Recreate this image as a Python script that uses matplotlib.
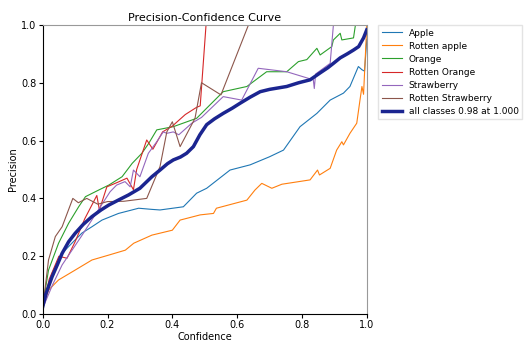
import matplotlib
matplotlib.use("Agg")
import matplotlib.pyplot as plt

# values (confidence, precision)
apple_x = [0.0, 0.018, 0.029, 0.06, 0.09, 0.121, 0.152, 0.183, 0.234, 0.296, 0.337, 0.362, 0.434,
           0.475, 0.506, 0.578, 0.64, 0.70, 0.743, 0.794, 0.846, 0.887, 0.928, 0.948, 0.974, 0.985, 0.993, 1.0]
apple_y = [0.02, 0.09, 0.141, 0.21, 0.245, 0.28, 0.302, 0.325, 0.348, 0.366, 0.362, 0.36, 0.371,
           0.418, 0.435, 0.498, 0.516, 0.544, 0.567, 0.648, 0.694, 0.74, 0.764, 0.787, 0.856, 0.845, 0.84, 0.95]

rotten_apple_x = [0.0, 0.018, 0.049, 0.10, 0.152, 0.204, 0.255, 0.281, 0.337, 0.40, 0.424, 0.486, 0.527,
                  0.536, 0.63, 0.655, 0.676, 0.707, 0.738, 0.825, 0.848, 0.854, 0.887, 0.907, 0.923, 0.928,
                  0.948, 0.969, 0.979, 0.985, 0.99, 1.0]
rotten_apple_y = [0.02, 0.083, 0.118, 0.152, 0.187, 0.204, 0.221, 0.245, 0.273, 0.29, 0.325, 0.343, 0.348,
                  0.366, 0.394, 0.429, 0.452, 0.435, 0.449, 0.464, 0.498, 0.481, 0.504, 0.567, 0.596, 0.585,
                  0.625, 0.66, 0.74, 0.787, 0.76, 1.0]

orange_x = [0.0, 0.018, 0.049, 0.08, 0.111, 0.132, 0.173, 0.204, 0.245, 0.276, 0.306, 0.327, 0.352, 0.403,
            0.475, 0.506, 0.557, 0.63, 0.691, 0.753, 0.789, 0.815, 0.846, 0.856, 0.892, 0.897, 0.918, 0.923,
            0.959, 0.965, 1.0]
orange_y = [0.03, 0.152, 0.245, 0.314, 0.371, 0.406, 0.429, 0.446, 0.475, 0.521, 0.556, 0.59, 0.637, 0.648,
            0.677, 0.712, 0.769, 0.787, 0.838, 0.838, 0.873, 0.88, 0.919, 0.896, 0.925, 0.948, 0.971, 0.948,
            0.955, 1.0, 1.0]

rotten_orange_x = [0.0, 0.02, 0.05, 0.075, 0.10, 0.13, 0.167, 0.175, 0.198, 0.23, 0.26, 0.28, 0.29, 0.321,
                   0.34, 0.37, 0.40, 0.44, 0.475, 0.486, 0.504]
rotten_orange_y = [0.02, 0.12, 0.20, 0.193, 0.25, 0.33, 0.41, 0.36, 0.44, 0.455, 0.47, 0.43, 0.50, 0.602,
                   0.57, 0.63, 0.65, 0.69, 0.715, 0.72, 1.0]

strawberry_x = [0.0, 0.03, 0.06, 0.09, 0.12, 0.16, 0.208, 0.228, 0.254, 0.27, 0.28, 0.30, 0.326, 0.352,
                0.372, 0.383, 0.403, 0.42, 0.46, 0.49, 0.557, 0.614, 0.665, 0.753, 0.835, 0.838, 0.842,
                0.887, 0.897]
strawberry_y = [0.02, 0.10, 0.17, 0.22, 0.27, 0.34, 0.423, 0.446, 0.458, 0.44, 0.498, 0.475, 0.556, 0.596,
                0.63, 0.625, 0.63, 0.62, 0.66, 0.68, 0.752, 0.74, 0.85, 0.838, 0.81, 0.78, 0.83, 0.867, 1.0]

rotten_strawberry_x = [0.0, 0.018, 0.039, 0.06, 0.093, 0.11, 0.136, 0.17, 0.20, 0.25, 0.321, 0.362, 0.383,
                       0.40, 0.424, 0.47, 0.49, 0.55, 0.635]
rotten_strawberry_y = [0.02, 0.187, 0.268, 0.302, 0.40, 0.385, 0.40, 0.38, 0.389, 0.39, 0.40, 0.51, 0.63,
                       0.665, 0.579, 0.677, 0.80, 0.758, 1.0]

all_x = [0.0, 0.01, 0.029, 0.045, 0.06, 0.08, 0.10, 0.125, 0.152, 0.18, 0.204, 0.235, 0.265, 0.30, 0.337,
         0.362, 0.385, 0.403, 0.425, 0.444, 0.465, 0.485, 0.506, 0.53, 0.557, 0.585, 0.609, 0.64, 0.671,
         0.70, 0.753, 0.79, 0.825, 0.856, 0.88, 0.897, 0.918, 0.94, 0.959, 0.975, 0.99, 1.0]
all_y = [0.025, 0.07, 0.129, 0.17, 0.21, 0.25, 0.279, 0.31, 0.337, 0.36, 0.377, 0.395, 0.412, 0.435, 0.475,
         0.498, 0.52, 0.533, 0.543, 0.556, 0.579, 0.62, 0.655, 0.675, 0.694, 0.712, 0.729, 0.75, 0.769,
         0.777, 0.787, 0.80, 0.81, 0.834, 0.852, 0.867, 0.886, 0.90, 0.913, 0.925, 0.955, 0.983]

names = ["Apple", "Rotten apple", "Orange", "Rotten Orange", "Strawberry", "Rotten Strawberry"]
series_x = [apple_x, rotten_apple_x, orange_x, rotten_orange_x, strawberry_x, rotten_strawberry_x]
series_y = [apple_y, rotten_apple_y, orange_y, rotten_orange_y, strawberry_y, rotten_strawberry_y]

fig = plt.figure(figsize=(5.27, 3.41), dpi=100)
ax = fig.add_axes([0.081, 0.079, 0.615, 0.848])

for name, xs, ys in zip(names, series_x, series_y):
    ax.plot(xs, ys, linewidth=0.8, label=name)

ax.plot(all_x, all_y, linewidth=2.5, color="#1b2590", label="all classes 0.98 at 1.000")

ax.set_xlim(0, 1)
ax.set_ylim(0, 1)
ax.set_xlabel("Confidence", fontsize=7, labelpad=1)
ax.set_ylabel("Precision", fontsize=7, labelpad=2)
ax.set_title("Precision-Confidence Curve", fontsize=8, pad=3)
ax.tick_params(labelsize=7, length=3, pad=1.5)
for side in ["top", "right"]:
    ax.spines[side].set_color("#999999")

ax.legend(bbox_to_anchor=(1.035, 1.0), loc="upper left", fontsize=6.5,
          frameon=True, fancybox=False, edgecolor="#dddddd", handlelength=2.2,
          borderaxespad=0, labelspacing=0.45)

fig.savefig("out.png", dpi=100)
